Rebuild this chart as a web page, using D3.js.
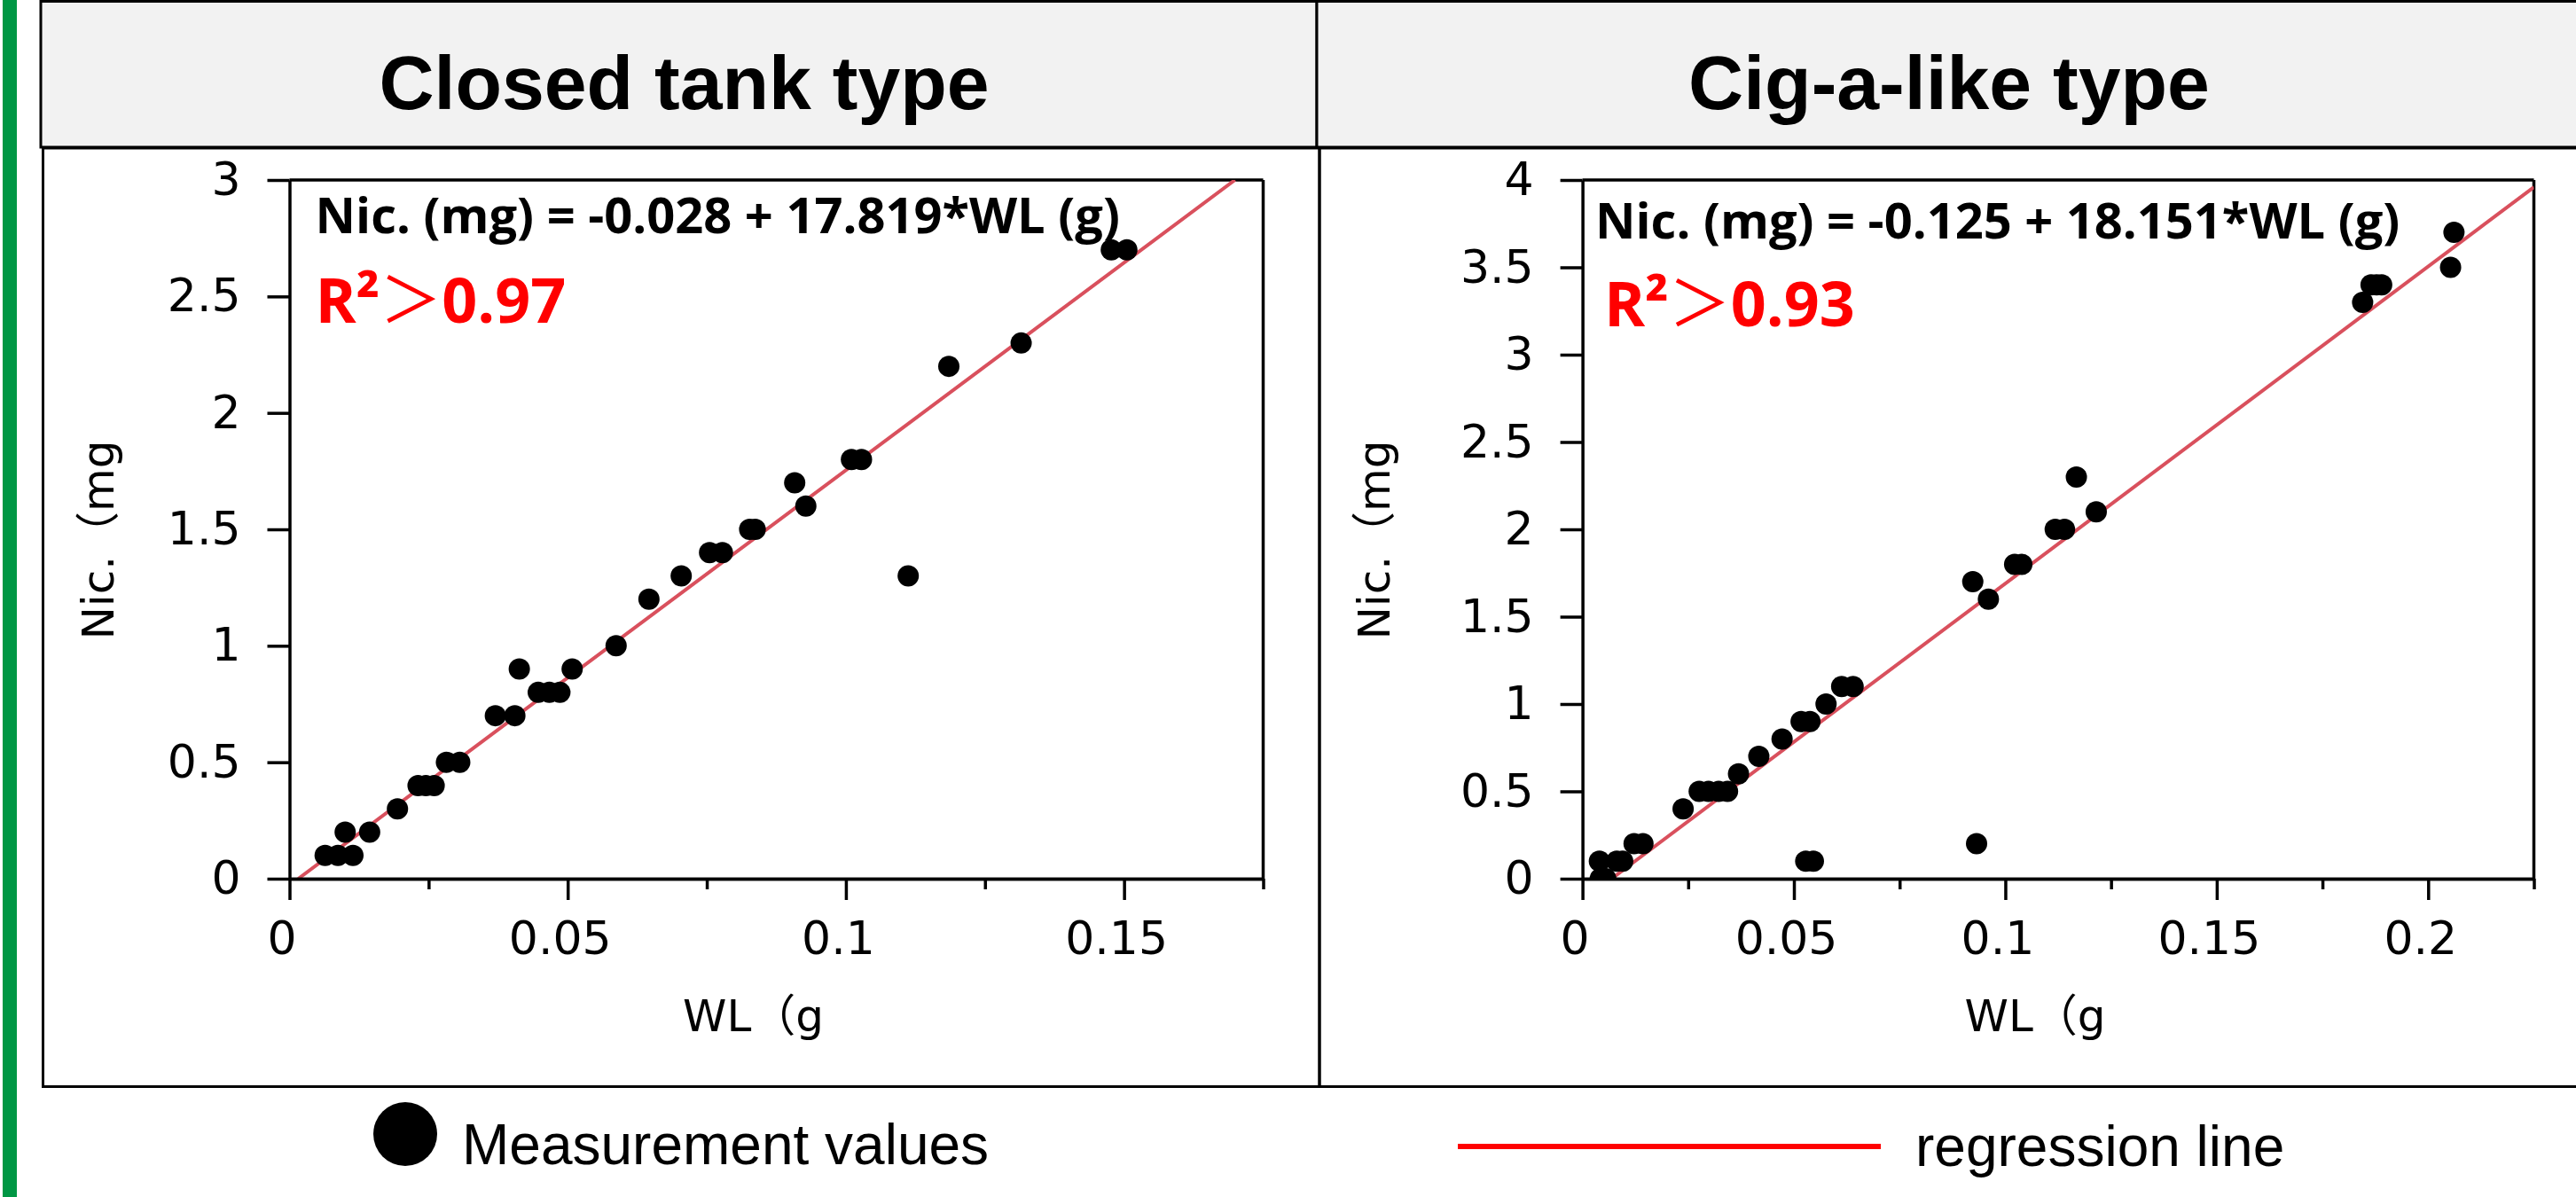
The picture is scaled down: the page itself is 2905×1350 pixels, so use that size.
<!DOCTYPE html>
<html>
<head>
<meta charset="utf-8">
<script src="https://cdn.jsdelivr.net/npm/d3@7"></script>
<style>
  html, body { margin: 0; padding: 0; background: #fff; }
  svg { display: block; }
</style>
</head>
<body>
<div id="chart"></div>
<script>
// ---------------- DATA ----------------
const panelTitles = ["Closed tank type", "Cig-a-like type"];

// Closed tank type: weight loss (g) vs nicotine (mg)
const closedWL  = [0.0064, 0.0087, 0.0114, 0.0100, 0.0144, 0.0194, 0.0231, 0.0245, 0.0260, 0.0282, 0.0306,
                   0.0370, 0.0405, 0.0413, 0.0447, 0.0467, 0.0486, 0.0508, 0.0587, 0.0646, 0.0704, 0.0755,
                   0.0778, 0.0827, 0.0837, 0.0908, 0.0928, 0.1010, 0.1028, 0.1112, 0.1185, 0.1315, 0.1477, 0.1505];
const closedNic = [0.1, 0.1, 0.1, 0.2, 0.2, 0.3, 0.4, 0.4, 0.4, 0.5, 0.5,
                   0.7, 0.7, 0.9, 0.8, 0.8, 0.8, 0.9, 1.0, 1.2, 1.3, 1.4,
                   1.4, 1.5, 1.5, 1.7, 1.6, 1.8, 1.8, 1.3, 2.2, 2.3, 2.7, 2.7];

// Cig-a-like type
const cigWL  = [0.0040, 0.0042, 0.0055, 0.0081, 0.0095, 0.0122, 0.0143, 0.0238, 0.0276, 0.0298, 0.0322, 0.0343,
                0.0369, 0.0417, 0.0472, 0.0517, 0.0538, 0.0528, 0.0546, 0.0576, 0.0613, 0.0640, 0.0923, 0.0960,
                0.0932, 0.1022, 0.1039, 0.1118, 0.1140, 0.1168, 0.1215, 0.1845, 0.1865, 0.1878, 0.1890, 0.2053, 0.2061];
const cigNic = [0.1, 0.0, 0.0, 0.1, 0.1, 0.2, 0.2, 0.4, 0.5, 0.5, 0.5, 0.5,
                0.6, 0.7, 0.8, 0.9, 0.9, 0.1, 0.1, 1.0, 1.1, 1.1, 1.7, 1.6,
                0.2, 1.8, 1.8, 2.0, 2.0, 2.3, 2.1, 3.3, 3.4, 3.4, 3.4, 3.5, 3.7];

// Regression equations
const regIntercept = [-0.028, -0.125];
const regSlope     = [17.819, 18.151];
const eqLabels = ["Nic. (mg) = -0.028 + 17.819*WL (g)", "Nic. (mg) = -0.125 + 18.151*WL (g)"];
const r2Values = ["0.97", "0.93"];

// Axes
const xMaxes = [0.175, 0.225];
const yMaxes = [3, 4];
const xMajorTicks = [[0, 0.05, 0.1, 0.15], [0, 0.05, 0.1, 0.15, 0.2]];
const xMinorTicks = [[0.025, 0.075, 0.125, 0.175], [0.025, 0.075, 0.125, 0.175, 0.225]];
const yTicks = [[0, 0.5, 1, 1.5, 2, 2.5, 3], [0, 0.5, 1, 1.5, 2, 2.5, 3, 3.5, 4]];
const xAxisLabel = "WL（g";
const yAxisLabel = "Nic.（mg";
const legendLabels = ["Measurement values", "regression line"];

// ---------------- LAYOUT ----------------
const W = 2905, H = 1350;
const layout = [
  { hx0: 46, hx1: 1485, fx0: 48.5, fx1: 1488, px0: 326.5, px1: 1424.5, py0: 991, py1: 203,
    ylabX: 127.5, eqX: 355.6, eqY: 263, r2X: 355.6, r2Y: 364 },
  { hx0: 1485, hx1: 2912, fx0: 1488, fx1: 2912, px0: 1784.6, px1: 2857.5, py0: 991, py1: 203,
    ylabX: 1566.7, eqX: 1799, eqY: 269, r2X: 1809, r2Y: 368 }
];
const panelData = [
  { wl: closedWL, nic: closedNic },
  { wl: cigWL, nic: cigNic }
];

const svg = d3.select("#chart").append("svg")
  .attr("width", W).attr("height", H)
  .attr("viewBox", `0 0 ${W} ${H}`);

svg.append("rect").attr("width", W).attr("height", H).attr("fill", "#fff");

// green side bar
svg.append("rect").attr("x", 3).attr("y", 0).attr("width", 16).attr("height", H).attr("fill", "#009744");

const defs = svg.append("defs");
const tickFont = "DejaVu Sans, sans-serif";
const labFont = "DejaVu Sans, Noto Sans CJK JP, sans-serif";

layout.forEach((L, i) => {
  // header
  svg.append("rect")
    .attr("x", L.hx0).attr("y", 1.5).attr("width", L.hx1 - L.hx0).attr("height", 164.5)
    .attr("fill", "#f2f2f2").attr("stroke", "#000").attr("stroke-width", 3);
  svg.append("text")
    .attr("x", (L.hx0 + Math.min(L.hx1, W)) / 2 + (i === 0 ? 6 : 3)).attr("y", 123)
    .attr("text-anchor", "middle")
    .attr("font-family", "Liberation Sans, Arial, sans-serif")
    .attr("font-weight", "bold").attr("font-size", 86)
    .attr("fill", "#000")
    .text(panelTitles[i]);

  // panel frame
  svg.append("rect")
    .attr("x", L.fx0).attr("y", 167).attr("width", L.fx1 - L.fx0).attr("height", 1225.5 - 167)
    .attr("fill", "none").attr("stroke", "#000").attr("stroke-width", 3);

  const x = d3.scaleLinear().domain([0, xMaxes[i]]).range([L.px0, L.px1]);
  const y = d3.scaleLinear().domain([0, yMaxes[i]]).range([L.py0, L.py1]);

  const g = svg.append("g");

  // top & right border of plot area
  g.append("line").attr("x1", x(0)).attr("x2", x(xMaxes[i])).attr("y1", y(yMaxes[i])).attr("y2", y(yMaxes[i]))
    .attr("stroke", "#000").attr("stroke-width", 3.5);
  g.append("line").attr("x1", x(xMaxes[i])).attr("x2", x(xMaxes[i])).attr("y1", y(yMaxes[i])).attr("y2", y(0))
    .attr("stroke", "#000").attr("stroke-width", 3.5);

  // clip
  const cid = "clip" + i;
  defs.append("clipPath").attr("id", cid).append("rect")
    .attr("x", x(0)).attr("y", y(yMaxes[i]))
    .attr("width", x(xMaxes[i]) - x(0)).attr("height", y(0) - y(yMaxes[i]));

  // regression line
  const a = regIntercept[i], b = regSlope[i];
  const xs = Math.max(0, -a / b);
  const xe = Math.min(xMaxes[i], (yMaxes[i] - a) / b);
  const line = d3.line().x(d => x(d)).y(d => y(a + b * d));
  g.append("path").datum([xs, xe])
    .attr("d", line)
    .attr("clip-path", `url(#${cid})`)
    .attr("fill", "none").attr("stroke", "#d9505d").attr("stroke-width", 4);

  // points
  const pts = panelData[i].wl.map((w, k) => ({ w, n: panelData[i].nic[k] }));
  g.append("g").attr("clip-path", `url(#${cid})`)
    .selectAll("circle").data(pts).join("circle")
    .attr("cx", d => x(d.w)).attr("cy", d => y(d.n)).attr("r", 12)
    .attr("fill", "#000");

  // axes
  const fmt = d => String(+d.toFixed(3));
  const yAxis = d3.axisLeft(y).tickValues(yTicks[i]).tickSize(25).tickSizeOuter(0).tickPadding(30).tickFormat(fmt);
  const xAxis = d3.axisBottom(x).tickValues(xMajorTicks[i]).tickSize(24).tickSizeOuter(0).tickPadding(24).tickFormat(fmt);
  const xMinor = d3.axisBottom(x).tickValues(xMinorTicks[i]).tickSize(12).tickSizeOuter(0).tickFormat("");

  const styleAxis = sel => {
    sel.attr("font-family", tickFont).attr("font-size", 52);
    sel.selectAll("path, line").attr("stroke", "#000").attr("stroke-width", 3.5);
    sel.selectAll("text").attr("font-family", tickFont).attr("font-size", 52).attr("fill", "#000");
  };
  g.append("g").attr("transform", `translate(${x(0)},0)`).call(yAxis).call(styleAxis);
  g.append("g").attr("transform", `translate(0,${y(0)})`).call(xMinor).call(styleAxis);
  const xa = g.append("g").attr("transform", `translate(0,${y(0)})`).call(xAxis).call(styleAxis);
  xa.selectAll("text").attr("dx", -9);

  // axis titles
  g.append("text")
    .attr("transform", `translate(${L.ylabX},${(L.py0 + L.py1) / 2 + 12}) rotate(-90)`)
    .attr("text-anchor", "middle")
    .attr("font-family", labFont).attr("font-size", 50).attr("fill", "#000")
    .text(yAxisLabel);
  g.append("text")
    .attr("x", (L.px0 + L.px1) / 2 - 26).attr("y", 1163)
    .attr("text-anchor", "middle")
    .attr("font-family", labFont).attr("font-size", 50).attr("fill", "#000")
    .text(xAxisLabel);

  // equation
  g.append("text")
    .attr("x", L.eqX).attr("y", L.eqY)
    .attr("font-family", "Open Sans, sans-serif").attr("font-weight", "bold")
    .attr("font-size", 56).attr("fill", "#000")
    .text(eqLabels[i]);

  const r2 = g.append("text")
    .attr("x", L.r2X).attr("y", L.r2Y)
    .attr("font-family", "Open Sans, sans-serif").attr("font-weight", "bold")
    .attr("font-size", 70).attr("fill", "#ff0000");
  r2.append("tspan").text("R²");
  r2.append("tspan").attr("font-family", "Noto Sans CJK JP, sans-serif").attr("font-weight", "normal").text("＞");
  r2.append("tspan").text(r2Values[i]);
});

// legend
svg.append("circle").attr("cx", 457).attr("cy", 1279).attr("r", 36).attr("fill", "#000");
svg.append("text").attr("x", 521).attr("y", 1313)
  .attr("font-family", "Liberation Sans, Arial, sans-serif").attr("font-size", 64).attr("fill", "#000")
  .text(legendLabels[0]);
svg.append("line").attr("x1", 1644).attr("x2", 2121).attr("y1", 1293).attr("y2", 1293)
  .attr("stroke", "#ff0000").attr("stroke-width", 6);
svg.append("text").attr("x", 2160).attr("y", 1315)
  .attr("font-family", "Liberation Sans, Arial, sans-serif").attr("font-size", 64).attr("fill", "#000")
  .text(legendLabels[1]);
</script>
</body>
</html>
